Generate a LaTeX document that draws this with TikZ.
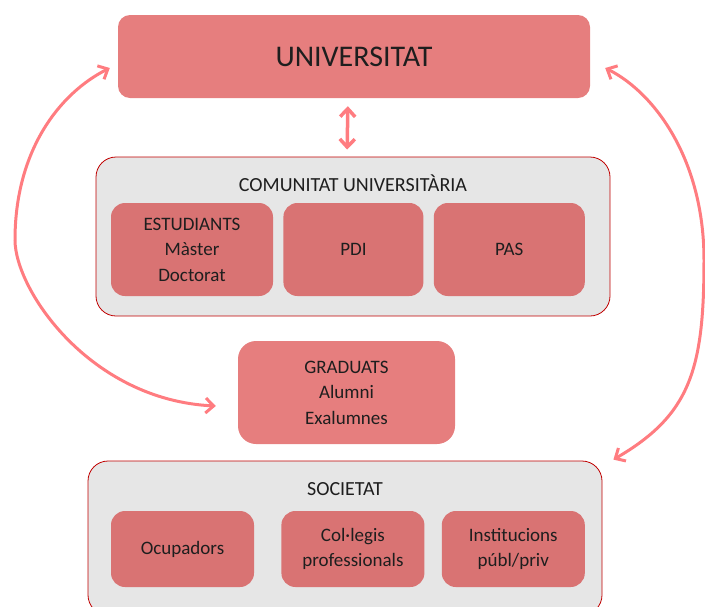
\documentclass[tikz,border=0pt]{standalone}
\usepackage{fontspec}
\setmainfont{Carlito}
\usetikzlibrary{arrows.meta, positioning}
\definecolor{univred}{HTML}{E67E7E}
\definecolor{innerred}{HTML}{D97373}
\definecolor{boxgray}{HTML}{E6E6E6}
\definecolor{edgered}{HTML}{C00000}
\definecolor{arrowpink}{HTML}{FF7C80}
\definecolor{textdark}{HTML}{1E1E1E}

\begin{document}
\begin{tikzpicture}[x=1pt, y=-1pt, text=textdark,
  bigbox/.style={fill=univred, rounded corners=12pt, inner sep=0pt, align=center},
  groupbox/.style={draw=edgered, line width=0.8pt, fill=boxgray, rounded corners=20pt, inner sep=0pt},
  itembox/.style={fill=innerred, rounded corners=14pt, inner sep=0pt, align=center,
    font=\fontsize{19}{25.5}\selectfont},
  grouptitle/.style={anchor=base, font=\fontsize{20}{24}\selectfont},
  flow/.style={draw=arrowpink, line width=3pt, <->, >={Straight Barb[length=8pt,width=15pt]}}]
  \useasboundingbox (0,0) rectangle (705,606);

  % Top box: Universitat
  \node[bigbox, minimum width=472pt, minimum height=83pt, font=\fontsize{30}{36}\selectfont] (univ) at (354,56.5) {UNIVERSITAT};

  % Comunitat universitaria with its three groups
  \node[groupbox, minimum width=514pt, minimum height=159pt] (comunitat) at (353,236.5) {};
  \node[grouptitle] (comtitle) at (353,191) {COMUNITAT UNIVERSITÀRIA};
  \node[itembox, minimum width=162pt, minimum height=93pt] (estudiants) at (192,249.5) {ESTUDIANTS\\Màster\\Doctorat};
  \node[itembox, minimum width=140pt, minimum height=93pt, right=10pt of estudiants] (pdi) {PDI};
  \node[itembox, minimum width=151pt, minimum height=93pt, right=10pt of pdi] (pas) {PAS};

  % Graduats
  \node[itembox, fill=univred, rounded corners=18pt, minimum width=217pt, minimum height=103pt] (graduats) at (346.5,392.5) {GRADUATS\\Alumni\\Exalumnes};

  % Societat with its three groups
  \node[groupbox, minimum width=514pt, minimum height=154pt] (societat) at (345,538) {};
  \node[grouptitle] (soctitle) at (345,495) {SOCIETAT};
  \node[itembox, minimum width=143pt, minimum height=76pt] (ocupadors) at (182.5,549) {Ocupadors};
  \node[itembox, minimum width=143pt, minimum height=76pt, right=27pt of ocupadors] (collegis) {Col·legis\\professionals};
  \node[itembox, minimum width=143pt, minimum height=76pt, right=17pt of collegis] (institucions) {Institucions\\públ/priv};

  % Arrows
  \draw[flow, line width=3.5pt, shorten <=8pt, shorten >=7pt] ([xshift=-6pt]univ.south) -- ([xshift=-6pt]comunitat.north);
  \draw[flow] ([shift={(-8,11.5)}]univ.west) .. controls (60,93) and (15,150) .. (15,240)
    .. controls (15,290) and (90,400) .. ([shift={(-22,13.5)}]graduats.west);
  \draw[flow] ([shift={(15,11.5)}]univ.east) .. controls (655,93) and (704,160) .. (704,260)
    .. controls (704,370) and (690,415) .. ([shift={(11,-1)}]societat.north east);
\end{tikzpicture}
\end{document}
